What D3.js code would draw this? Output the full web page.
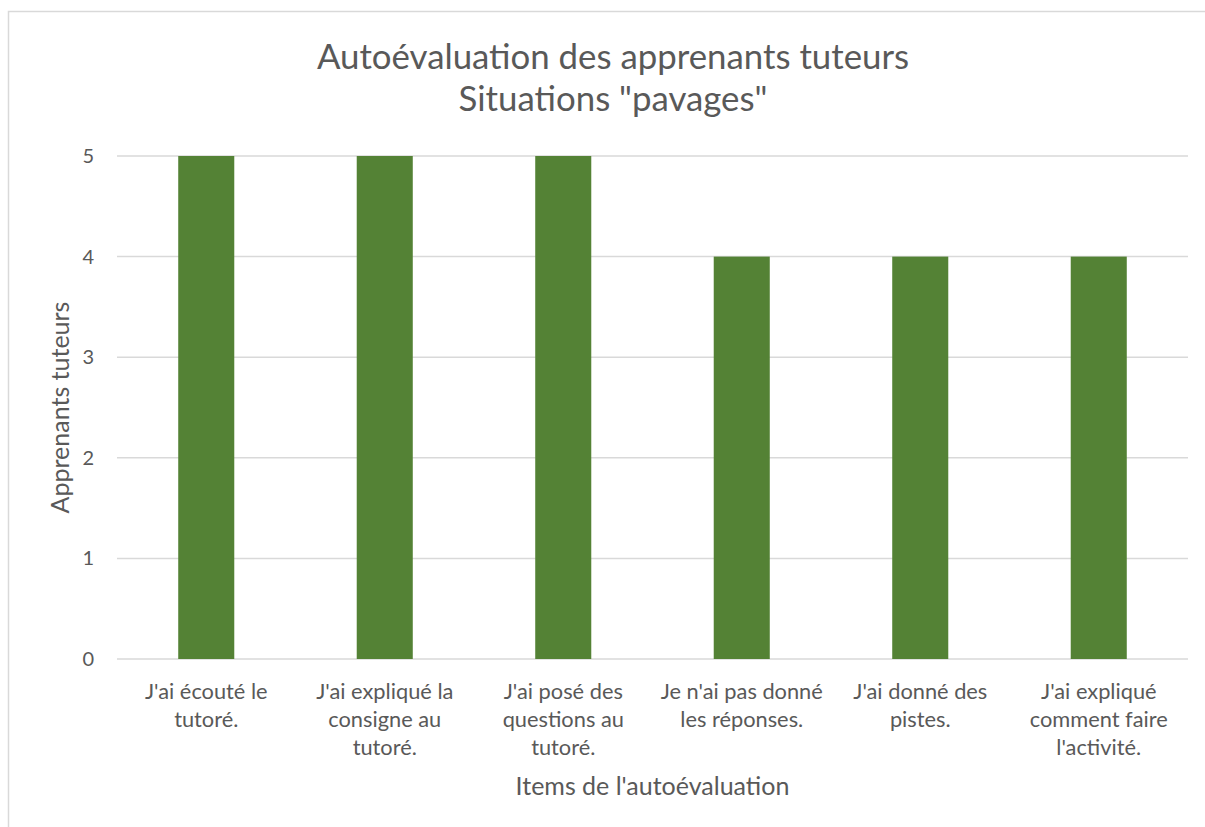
<!DOCTYPE html>
<html>
<head>
<meta charset="utf-8">
<script src="https://cdn.jsdelivr.net/npm/d3@7"></script>
<style>
  body { margin: 0; background: #fff; }
  text { font-family: Lato, "Open Sans", sans-serif; fill: #595959; }
</style>
</head>
<body>
<svg id="chart" width="1205" height="827"></svg>
<script>
// data
const categories = [
    "J'ai écouté le\ntutoré.",
    "J'ai expliqué la\nconsigne au\ntutoré.",
    "J'ai posé des\nquestions au\ntutoré.",
    "Je n'ai pas donné\nles réponses.",
    "J'ai donné des\npistes.",
    "J'ai expliqué\ncomment faire\nl'activité."
];
const values = [5, 5, 5, 4, 4, 4];
const yTicks = [0, 1, 2, 3, 4, 5];
const titleLines = ["Autoévaluation des apprenants tuteurs", "Situations \"pavages\""];
const xTitle = "Items de l'autoévaluation";
const yTitle = "Apprenants tuteurs";

const svg = d3.select("#chart");

// chart border
svg.append("rect")
    .attr("x", 8.5).attr("y", 11.5)
    .attr("width", 1205).attr("height", 830)
    .attr("fill", "none")
    .attr("stroke", "#d9d9d9")
    .attr("stroke-width", 1.5);

const margin = {top: 156, right: 17, bottom: 168, left: 117};
const width  = 1205 - margin.left - margin.right;
const height = 827 - margin.top - margin.bottom;

const g = svg.append("g")
    .attr("transform", "translate(" + margin.left + "," + margin.top + ")");

const x = d3.scaleBand()
    .domain(categories)
    .range([0, width])
    .paddingInner(0.686)
    .paddingOuter(0.343);

const y = d3.scaleLinear()
    .domain([0, 5])
    .range([height, 0]);

// gridlines
g.append("g")
    .selectAll("line")
    .data(yTicks)
    .enter()
    .append("line")
    .attr("x1", 0).attr("x2", width)
    .attr("y1", d => y(d)).attr("y2", d => y(d))
    .attr("stroke", "#d9d9d9")
    .attr("stroke-width", 1.5);

// y axis labels
const yAxis = g.append("g")
    .call(d3.axisLeft(y).tickValues(yTicks).tickFormat(d3.format("d")).tickSize(0).tickPadding(23));
yAxis.select(".domain").remove();
yAxis.selectAll("text")
    .style("font-family", "Lato, 'Open Sans', sans-serif")
    .style("font-size", "20px")
    .attr("fill", "#595959");

// bars
g.selectAll("rect.bar")
    .data(values)
    .enter()
    .append("rect")
    .attr("class", "bar")
    .attr("x", (d, i) => x(categories[i]))
    .attr("y", d => y(d))
    .attr("width", x.bandwidth())
    .attr("height", d => height - y(d))
    .attr("fill", "#548235");

// x axis labels (multi-line)
const xAxis = g.append("g")
    .attr("transform", "translate(0," + height + ")")
    .call(d3.axisBottom(x).tickSize(0).tickFormat(""));
xAxis.select(".domain").remove();
xAxis.selectAll(".tick").each(function(d) {
    const t = d3.select(this).append("text")
        .attr("text-anchor", "middle")
        .style("font-size", "21.8px")
        .attr("fill", "#595959");
    d.split("\n").forEach((line, i) => {
        t.append("tspan")
            .attr("x", 0)
            .attr("y", 40 + i * 28)
            .text(line);
    });
});

// title
const title = svg.append("text")
    .attr("text-anchor", "middle")
    .style("font-size", "34.8px");
titleLines.forEach((line, i) => {
    title.append("tspan")
        .attr("x", 613)
        .attr("y", 69 + i * 42)
        .text(line);
});

// axis titles
svg.append("text")
    .attr("text-anchor", "middle")
    .attr("x", margin.left + width / 2)
    .attr("y", 795)
    .style("font-size", "25px")
    .text(xTitle);

svg.append("text")
    .attr("text-anchor", "middle")
    .attr("transform", "translate(69," + (margin.top + height / 2) + ") rotate(-90)")
    .style("font-size", "25px")
    .text(yTitle);
</script>
</body>
</html>
